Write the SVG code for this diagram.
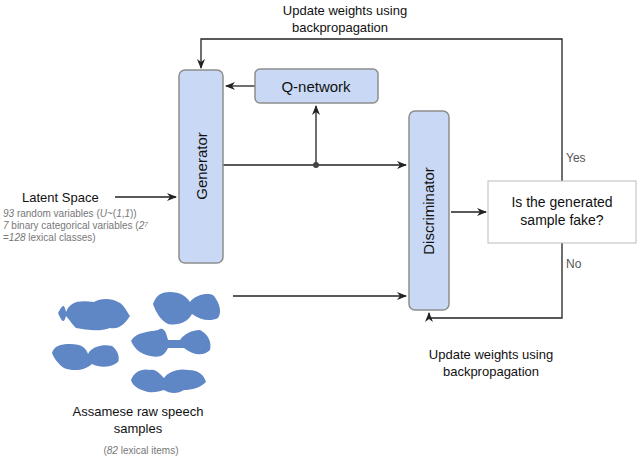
<svg xmlns="http://www.w3.org/2000/svg" width="640" height="456" viewBox="0 0 640 456">
<defs>
<style>
.n{fill:#c9d9f5;stroke:#8d8d8d;stroke-width:1.5}
.t{font-family:"Liberation Sans",Arial,sans-serif;fill:#111}
.s{font-family:"Liberation Sans",Arial,sans-serif;fill:#777;font-size:10px}
.c{fill:none;stroke:#222;stroke-width:1.3}
.w{fill:#5f87c6}
</style>
<marker id="a" markerWidth="10" markerHeight="8" refX="9" refY="4" orient="auto" markerUnits="userSpaceOnUse"><path d="M0,0L10,4L0,8L3,4z" fill="#222"/></marker>
</defs>
<rect width="640" height="456" fill="#fff"/>
<g id="connectors">
<path class="c" d="M562,181V39H201V68" marker-end="url(#a)"/>
<path class="c" d="M255,86H226" marker-end="url(#a)"/>
<path class="c" d="M223,165H406" marker-end="url(#a)"/>
<path class="c" d="M316,165V106" marker-end="url(#a)"/>
<circle cx="316" cy="165" r="3" fill="#444"/>
<path class="c" d="M451,212H486" marker-end="url(#a)"/>
<path class="c" d="M562,243V318H429V313" marker-end="url(#a)"/>
<path class="c" d="M115,197H176" marker-end="url(#a)"/>
<path class="c" d="M233,296H406" marker-end="url(#a)"/>
<text class="t" x="345" y="15" font-size="13" text-anchor="middle">Update weights using</text>
<text class="t" x="340" y="32" font-size="13" text-anchor="middle">backpropagation</text>
<text class="t" x="491" y="359" font-size="13" text-anchor="middle">Update weights using</text>
<text class="t" x="491" y="376" font-size="13" text-anchor="middle">backpropagation</text>
<text x="566" y="162" font-size="12" class="t" fill="#555" style="fill:#555">Yes</text>
<text x="566" y="268" font-size="12" class="t" style="fill:#555">No</text>
</g>
<g id="generator"><rect class="n" x="179" y="70" width="44" height="193" rx="6"/>
<text class="t" font-size="15" transform="translate(207,166) rotate(-90)" text-anchor="middle">Generator</text></g>
<g id="qnetwork"><rect class="n" x="255" y="69" width="123" height="34" rx="5"/>
<text class="t" x="316" y="92" font-size="15" text-anchor="middle">Q-network</text></g>
<g id="discriminator"><rect class="n" x="409" y="111" width="40" height="199" rx="6"/>
<text class="t" font-size="15" transform="translate(434,211) rotate(-90)" text-anchor="middle">Discriminator</text></g>
<g id="decision"><rect x="488" y="181" width="148" height="62" fill="#fff" stroke="#bbb"/>
<text class="t" x="562" y="207" font-size="14" text-anchor="middle">Is the generated</text>
<text class="t" x="562" y="225" font-size="14" text-anchor="middle">sample fake?</text></g>
<g id="latent">
<text class="t" x="22" y="202" font-size="13">Latent Space</text>
<text class="s" x="3" y="217"><tspan font-style="italic">93</tspan> random variables (<tspan font-style="italic">U</tspan>~(<tspan font-style="italic">1</tspan>,<tspan font-style="italic">1</tspan>))</text>
<text class="s" x="3" y="229"><tspan font-style="italic">7</tspan> binary categorical variables (<tspan font-style="italic">2⁷</tspan></text>
<text class="s" x="3" y="241">=<tspan font-style="italic">128</tspan> lexical classes)</text>
</g>
<g id="speech">
<path class="w" d="M58,313C62,306 64,302 66,312C70,302 78,300 94,302C100,298 112,298 118,302C124,304 128,314 130,316C126,322 120,330 110,328C100,332 86,330 76,328C72,324 68,318 66,316C64,324 62,322 58,313Z"/>
<path class="w" d="M153,304C156,296 160,292 170,292C180,292 186,296 190,302C196,294 210,292 214,296C220,304 222,312 218,318C210,322 200,320 192,314C188,322 178,326 168,324C160,320 156,312 153,304Z"/>
<path class="w" d="M52,353C54,346 60,344 70,344C82,344 86,348 88,354C92,346 104,344 112,346C118,350 120,358 118,362C110,368 100,368 92,364C86,370 74,372 64,368C58,364 54,358 52,353Z"/>
<path class="w" d="M131,341C136,332 148,332 158,330C164,326 166,332 168,340H180C184,334 192,330 200,330C208,334 212,342 210,350C204,356 194,356 184,348H168C164,356 160,358 150,356C140,354 134,348 131,341Z"/>
<path class="w" d="M131,380C134,372 142,368 150,370C156,368 162,376 164,378C168,372 178,368 188,370C200,370 204,376 206,382C200,388 192,390 184,390C178,394 170,394 164,390C158,392 150,394 142,390C136,388 132,384 131,380Z"/>
<text class="t" x="138" y="416" font-size="13" text-anchor="middle">Assamese raw speech</text>
<text class="t" x="138" y="433" font-size="13" text-anchor="middle">samples</text>
<text class="s" x="141" y="454" text-anchor="middle">(<tspan font-style="italic">82</tspan> lexical items)</text>
</g>
</svg>
